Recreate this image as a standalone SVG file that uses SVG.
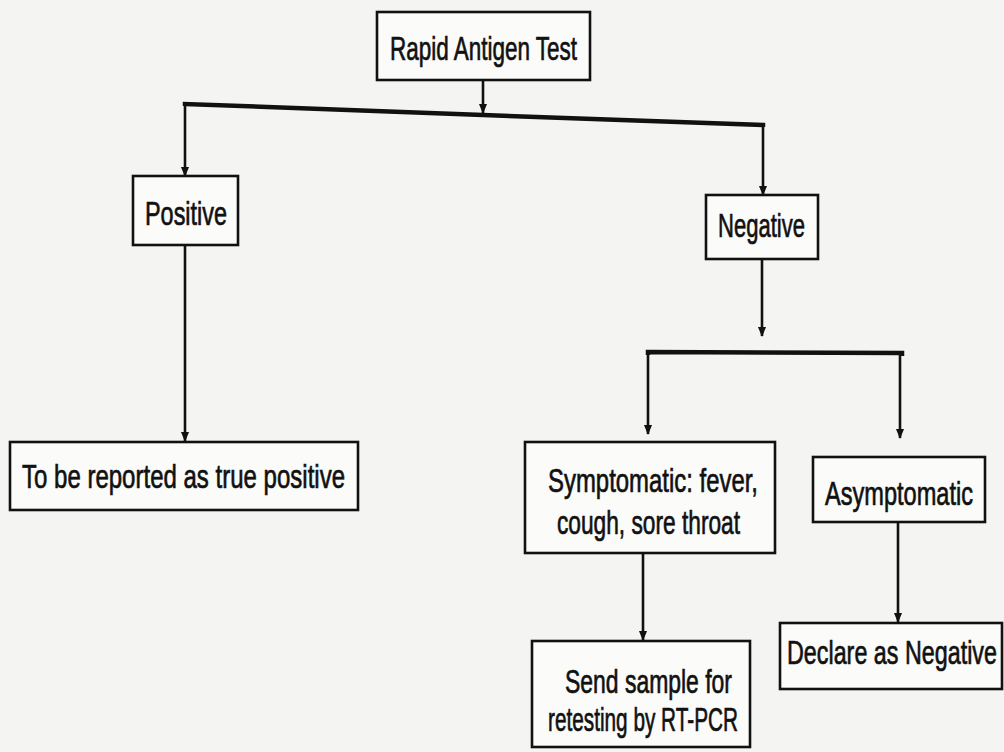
<svg xmlns="http://www.w3.org/2000/svg" width="1004" height="752" viewBox="0 0 1004 752">
<defs>
<marker id="ah" viewBox="0 0 10 10" refX="9" refY="5" markerWidth="11" markerHeight="10" markerUnits="userSpaceOnUse" orient="auto">
<path d="M0,1 L10,5 L0,9 Z" fill="#111"/>
</marker>
<style>
.box{fill:#fbfbfa;stroke:#111;stroke-width:2.6}
.t{font-family:"Liberation Sans",Arial,sans-serif;font-size:34px;fill:#111;stroke:#111;stroke-width:0.7}
.e{text-anchor:end}
.c{fill:none;stroke:#111;stroke-width:2.6}
.bar{fill:none;stroke:#111;stroke-width:4.5;stroke-linejoin:miter}
</style>
</defs>
<rect width="1004" height="752" fill="#f4f4f2"/>
<g id="connectors">
<line class="c" x1="483" y1="80" x2="483" y2="113" marker-end="url(#ah)"/>
<polyline class="bar" points="185,106 185,104 483,115 763,125 763,127"/>
<line class="c" x1="185" y1="104" x2="185" y2="176" marker-end="url(#ah)"/>
<line class="c" x1="763" y1="125" x2="763" y2="195" marker-end="url(#ah)"/>
<line class="c" x1="185" y1="245" x2="185" y2="441" marker-end="url(#ah)"/>
<line class="c" x1="762" y1="259" x2="762" y2="336" marker-end="url(#ah)"/>
<polyline class="bar" points="648,355 648,352 902,353 902,356"/>
<line class="c" x1="648" y1="352" x2="648" y2="434" marker-end="url(#ah)"/>
<line class="c" x1="900" y1="353" x2="900" y2="438" marker-end="url(#ah)"/>
<line class="c" x1="643" y1="553" x2="643" y2="640" marker-end="url(#ah)"/>
<line class="c" x1="898" y1="522" x2="898" y2="622" marker-end="url(#ah)"/>
</g>
<g id="rapid">
<rect class="box" x="377" y="12" width="213" height="68"/>
<text class="t" x="390" y="60" textLength="187" lengthAdjust="spacingAndGlyphs">Rapid Antigen Test</text>
</g>
<g id="positive">
<rect class="box" x="133" y="176" width="105" height="69"/>
<text class="t" x="145" y="225" textLength="82" lengthAdjust="spacingAndGlyphs">Positive</text>
</g>
<g id="negative">
<rect class="box" x="706" y="195" width="112" height="64"/>
<text class="t" x="718" y="237" textLength="87" lengthAdjust="spacingAndGlyphs">Negative</text>
</g>
<g id="true-positive">
<rect class="box" x="10" y="442" width="348" height="68"/>
<text class="t" x="22" y="488" textLength="323" lengthAdjust="spacingAndGlyphs">To be reported as true positive</text>
</g>
<g id="symptomatic">
<rect class="box" x="525" y="442" width="250" height="111"/>
<text class="t" x="548" y="492" textLength="210" lengthAdjust="spacingAndGlyphs">Symptomatic: fever,</text>
<text class="t" x="557" y="534" textLength="183" lengthAdjust="spacingAndGlyphs">cough, sore throat</text>
</g>
<g id="asymptomatic">
<rect class="box" x="813" y="457" width="172" height="65"/>
<text class="t e" x="973" y="505" textLength="148" lengthAdjust="spacingAndGlyphs">Asymptomatic</text>
</g>
<g id="send-sample">
<rect class="box" x="532" y="641" width="218" height="106"/>
<text class="t" x="565" y="693" textLength="167" lengthAdjust="spacingAndGlyphs">Send sample for</text>
<text class="t" x="548" y="731" textLength="190" lengthAdjust="spacingAndGlyphs">retesting by RT-PCR</text>
</g>
<g id="declare-negative">
<rect class="box" x="780" y="623" width="222" height="66"/>
<text class="t e" x="997" y="664" textLength="210" lengthAdjust="spacingAndGlyphs">Declare as Negative</text>
</g>
</svg>
